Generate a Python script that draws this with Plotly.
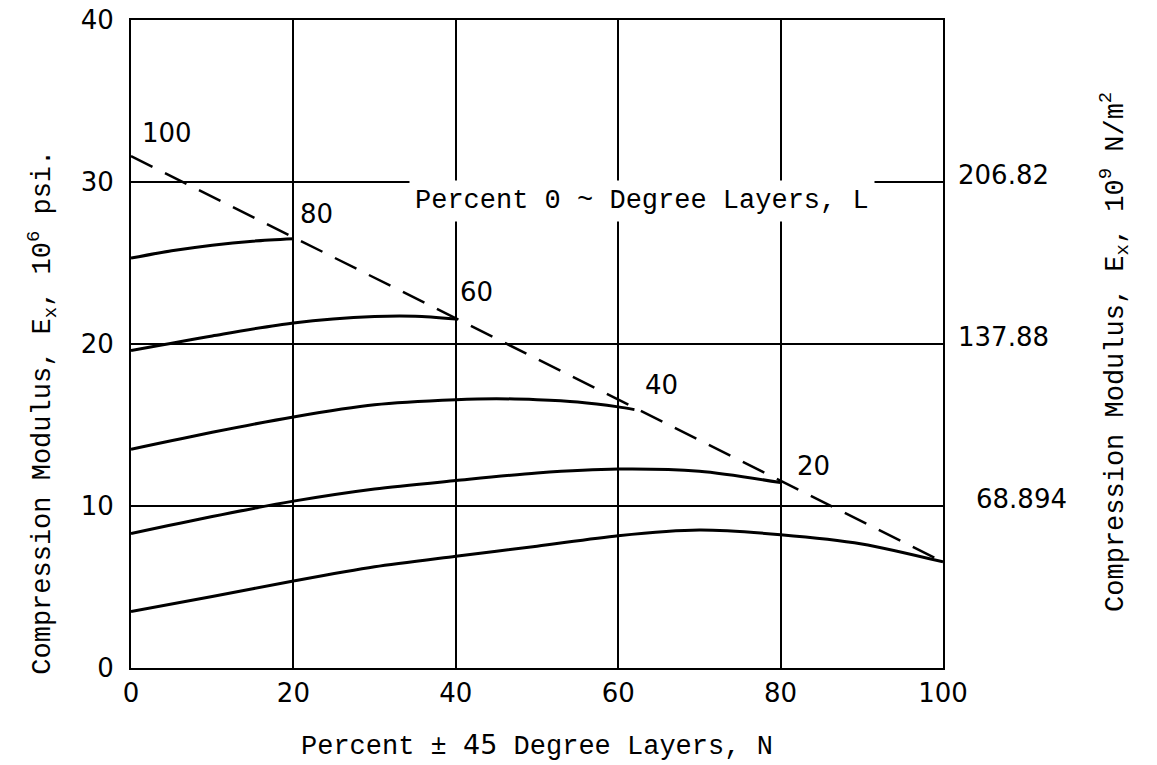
import plotly.graph_objects as go

# ---- data ----
N_100_line = [0, 100]
E_100_line = [31.6, 6.55]

N_80 = [0, 5, 10, 15, 20]
E_80 = [25.3, 25.75, 26.1, 26.35, 26.5]

N_60 = [0, 10, 20, 30, 35, 40]
E_60 = [19.6, 20.5, 21.3, 21.7, 21.72, 21.55]

N_40 = [0, 10, 20, 30, 40, 45, 50, 55, 60, 62]
E_40 = [13.5, 14.55, 15.5, 16.25, 16.56, 16.62, 16.56, 16.42, 16.12, 15.95]

N_20 = [0, 10, 20, 30, 40, 50, 60, 70, 80]
E_20 = [8.3, 9.35, 10.3, 11.05, 11.57, 12.04, 12.28, 12.14, 11.45]

N_0 = [0, 10, 20, 30, 40, 50, 60, 70, 80, 90, 100]
E_0 = [3.48, 4.41, 5.37, 6.25, 6.9, 7.52, 8.17, 8.52, 8.23, 7.66, 6.55]

CURVE_LABELS = ["100", "80", "60", "40", "20", "0"]
LABEL_X = [4.4, 22.9, 42.6, 65.3, 84.1, 102.6]
LABEL_Y = [33.0, 28.0, 23.2, 17.5, 12.45, 7.9]

X_TICKS = [0, 20, 40, 60, 80, 100]
Y_TICKS = [0, 10, 20, 30, 40]
RIGHT_TICK_VALS = [30, 20, 10]
RIGHT_TICK_TEXT = ["206.82", "137.88", "68.894"]

# style constants
RIGHT_LABEL_XSHIFT = [0, 0, 18]
MONO = "Liberation Mono"
SANS = "DejaVu Sans"
TICK_SIZE = 26
TITLE_SIZE = 27

fig = go.Figure()

for xs, ys in [(N_80, E_80), (N_60, E_60), (N_40, E_40), (N_20, E_20), (N_0, E_0)]:
    fig.add_trace(go.Scatter(x=xs, y=ys, mode="lines",
                             line=dict(color="black", width=3, shape="spline", smoothing=0.8),
                             showlegend=False, hoverinfo="skip"))

fig.add_trace(go.Scatter(x=N_100_line, y=E_100_line, mode="lines",
                         line=dict(color="black", width=2.5, dash="24px,14px"),
                         showlegend=False, hoverinfo="skip"))

for t, x, y in zip(CURVE_LABELS, LABEL_X, LABEL_Y):
    fig.add_annotation(x=x, y=y, text=t, showarrow=False, xanchor="center", yanchor="middle",
                       font=dict(family=SANS, size=TICK_SIZE, color="black"))

for v, t, dx in zip(RIGHT_TICK_VALS, RIGHT_TICK_TEXT, RIGHT_LABEL_XSHIFT):
    fig.add_annotation(xref="paper", x=1.016, xanchor="left", y=v, yanchor="middle",
                       yshift=7, xshift=dx, text=t, showarrow=False,
                       font=dict(family=SANS, size=TICK_SIZE, color="black"))

fig.add_annotation(x=62.9, y=28.85, text="Percent 0 ~ Degree Layers, L", showarrow=False,
                   xanchor="center", yanchor="middle", bgcolor="white", borderpad=5,
                   font=dict(family=MONO, size=TITLE_SIZE, color="black"))

# axis titles
fig.add_annotation(xref="paper", yref="paper", x=0.5, y=-0.119, xanchor="center", yanchor="middle",
                   text="Percent ± <span style='font-family:DejaVu Sans'>45</span> Degree Layers, N",
                   showarrow=False, font=dict(family=MONO, size=TITLE_SIZE, color="black"))
fig.add_annotation(xref="paper", yref="paper", x=-0.11, y=0.395, textangle=-90,
                   xanchor="center", yanchor="middle",
                   text="Compression Modulus, E<sub>x</sub>, 10<sup>6</sup> psi.",
                   showarrow=False, font=dict(family=MONO, size=TITLE_SIZE, color="black"))
fig.add_annotation(xref="paper", yref="paper", x=1.212, y=0.488, textangle=-90,
                   xanchor="center", yanchor="middle",
                   text="Compression Modulus, E<sub>x</sub>, 10<sup>9</sup> N/m<sup>2</sup>",
                   showarrow=False, font=dict(family=MONO, size=TITLE_SIZE, color="black"))

fig.update_xaxes(range=[0, 100], tickvals=X_TICKS, showgrid=True, gridcolor="black", gridwidth=2,
                 showline=True, linecolor="black", linewidth=2, mirror=True, zeroline=False,
                 ticks="", ticklabelstandoff=1, automargin=False,
                 tickfont=dict(family=SANS, size=TICK_SIZE, color="black"))
fig.update_yaxes(range=[0, 40], tickvals=Y_TICKS, showgrid=True, gridcolor="black", gridwidth=2,
                 showline=True, linecolor="black", linewidth=2, mirror=True, zeroline=False,
                 ticks="", ticklabelstandoff=10, automargin=False,
                 tickfont=dict(family=SANS, size=TICK_SIZE, color="black"))

fig.update_layout(width=1157, height=765, margin=dict(l=131, r=214, t=20, b=97),
                  plot_bgcolor="white", paper_bgcolor="white")

fig.write_html("out.html")
